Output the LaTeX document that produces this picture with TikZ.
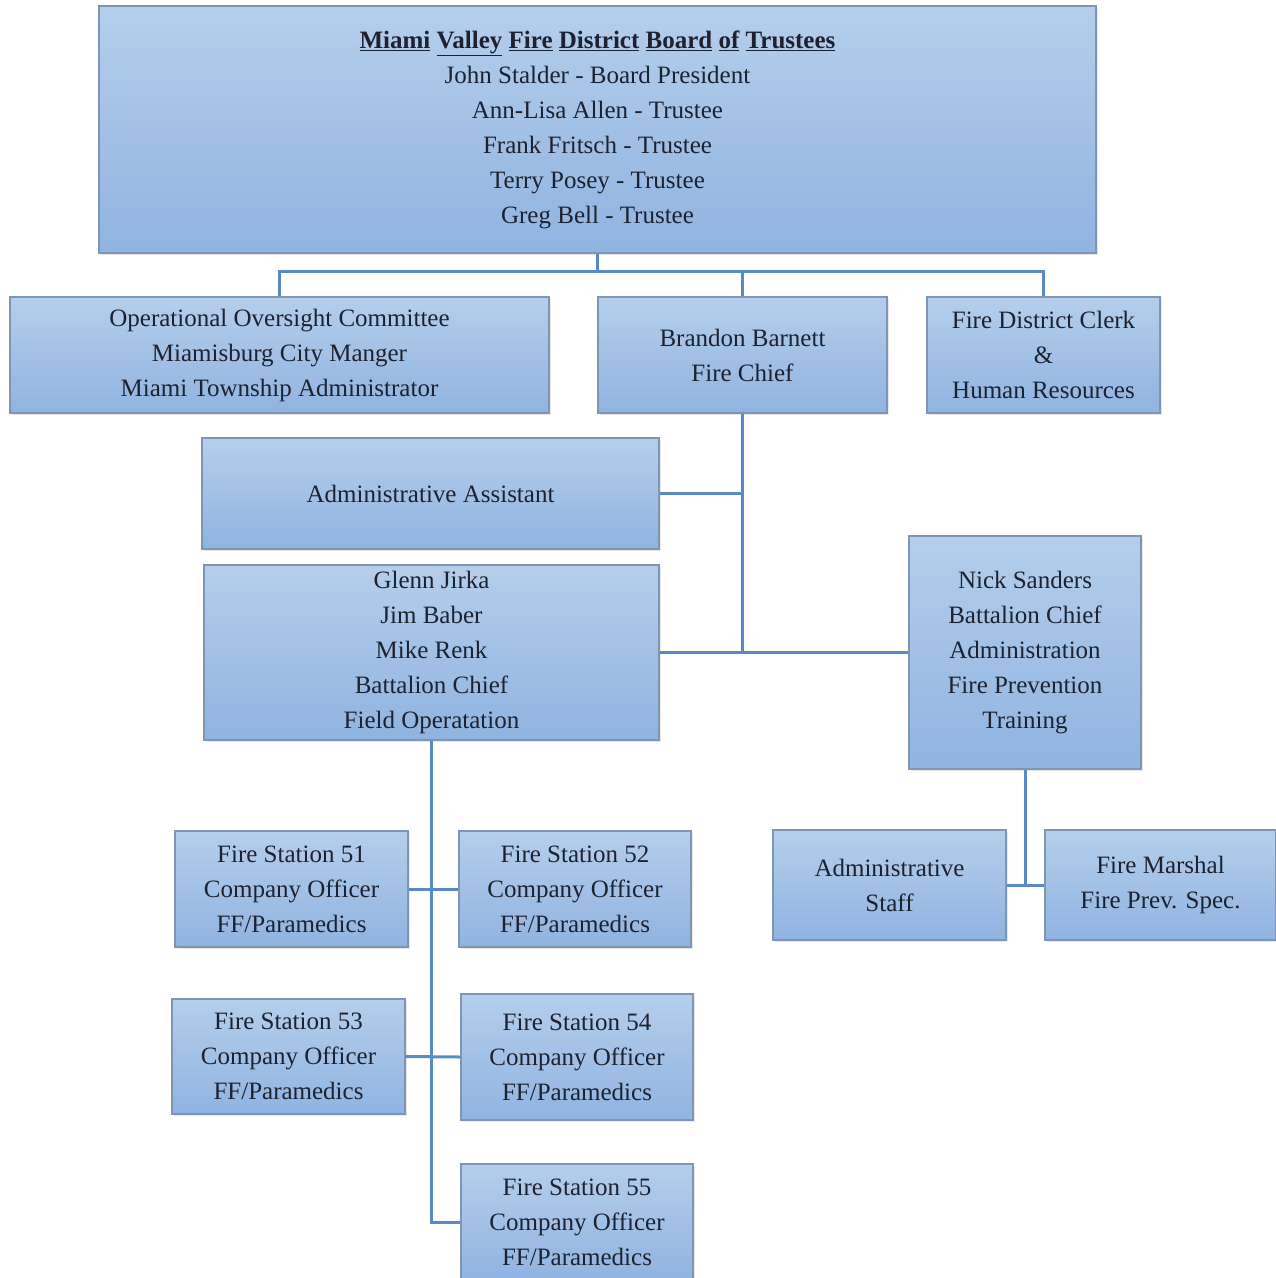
\documentclass[tikz,border=0pt]{standalone}
\usepackage{fontspec}
\setmainfont{Liberation Serif}
\usetikzlibrary{shadows}
\definecolor{boxtop}{HTML}{B5CEEB}
\definecolor{boxbot}{HTML}{90B3E1}
\definecolor{boxedge}{HTML}{7D96B6}
\definecolor{linec}{HTML}{5A8AC6}
\definecolor{txt}{HTML}{1E2230}
\tikzset{
  orgbox/.style={draw=boxedge, line width=1.5pt, top color=boxtop, bottom color=boxbot,
    align=center, text=txt, inner sep=0pt,
    font=\fontsize{25}{35}\selectfont,
    drop shadow={opacity=0.18, shadow xshift=2pt, shadow yshift=-2pt},
    minimum width=#1},
  conn/.style={draw=linec, line width=3pt}
}
\begin{document}
\begin{tikzpicture}[x=1pt,y=-1pt]
\useasboundingbox (0,0) rectangle (1276,1278);
\node[orgbox=997pt, minimum height=247pt] (board) at (597.5,129.5)
  {\textbf{\underline{Miami} \underline{Valley} \underline{Fire} \underline{District} \underline{Board} \underline{of} \underline{Trustees}}\\
   John Stalder - Board President\\ Ann-Lisa Allen - Trustee\\ Frank Fritsch - Trustee\\ Terry Posey - Trustee\\ Greg Bell - Trustee};
\node[orgbox=539pt, minimum height=116pt] (ops) at (279.5,355)
  {Operational Oversight Committee\\ Miamisburg City Manger\\ Miami Township Administrator};
\node[orgbox=289pt, minimum height=116pt] (chief) at (742.5,355)
  {Brandon Barnett\\ Fire Chief};
\node[orgbox=233pt, minimum height=116pt] (clerk) at (1043.5,355)
  {Fire District Clerk\\ \&\\ Human Resources};
\node[orgbox=457pt, minimum height=111pt] (asst) at (430.5,493.5)
  {Administrative Assistant};
\node[orgbox=455pt, minimum height=175pt] (bcf) at (431.5,652.5)
  {Glenn Jirka\\ Jim Baber\\ Mike Renk\\ Battalion Chief\\ Field Operatation};
\node[orgbox=232pt, minimum height=233pt] (nick) at (1025,652.5)
  {Nick Sanders\\ Battalion Chief\\ Administration\\ Fire Prevention\\ Training};
\node[orgbox=233pt, minimum height=110pt] (staff) at (889.5,885)
  {Administrative\\ Staff};
\node[orgbox=231pt, minimum height=110pt] (marshal) at (1160.5,885)
  {Fire Marshal\\ Fire Prev. Spec.};
\node[orgbox=233pt, minimum height=116pt] (fs51) at (291.5,889)
  {Fire Station 51\\ Company Officer\\ FF/Paramedics};
\node[orgbox=232pt, minimum height=116pt] (fs52) at (575,889)
  {Fire Station 52\\ Company Officer\\ FF/Paramedics};
\node[orgbox=233pt, minimum height=115pt] (fs53) at (288.5,1056.5)
  {Fire Station 53\\ Company Officer\\ FF/Paramedics};
\node[orgbox=232pt, minimum height=126pt] (fs54) at (577,1057)
  {Fire Station 54\\ Company Officer\\ FF/Paramedics};
\node[orgbox=232pt, minimum height=116pt] (fs55) at (577,1222)
  {Fire Station 55\\ Company Officer\\ FF/Paramedics};
% connectors
\draw[conn] (board.south) -- ++(0,19);
\draw[conn] (ops.north) -- ++(0,-25) -| (clerk.north);
\draw[conn] (chief.north) -- ++(0,-25);
\draw[conn] (chief.south) -- (chief.south |- bcf.east);
\draw[conn] (asst.east) -- (asst.east -| chief.south);
\draw[conn] (bcf.east) -- (nick.west);
\draw[conn] (nick.south) -- (nick.south |- staff.east);
\draw[conn] (staff.east) -- (marshal.west);
\draw[conn] (bcf.south) |- (fs55.west);
\draw[conn] (fs51.east) -- (fs52.west);
\draw[conn] (fs53.east) -- (fs54.west);
\end{tikzpicture}
\end{document}
